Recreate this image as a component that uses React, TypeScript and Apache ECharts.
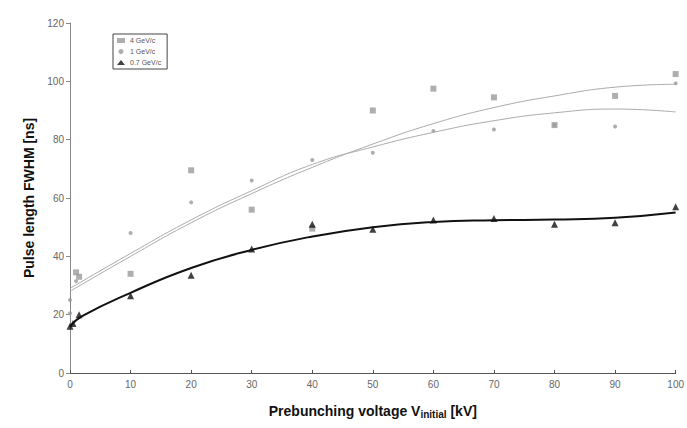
import React, { useEffect, useRef } from "react";
import * as echarts from "echarts";

const xTicks = [0, 10, 20, 30, 40, 50, 60, 70, 80, 90, 100];

// Measured points
const sq4: [number, number][] = [
  [1, 34.5], [1.5, 33], [10, 34], [20, 69.5], [30, 56], [40, 49.5], [50, 90],
  [60, 97.5], [70, 94.5], [80, 85], [90, 95], [100, 102.5],
];
const circ1: [number, number][] = [
  [0, 25], [0, 20.5], [1, 31.5], [10, 48], [20, 58.5], [30, 66], [40, 73], [50, 75.5],
  [60, 83], [70, 83.5], [80, 85], [90, 84.5], [100, 99.3],
];
const tri07: [number, number][] = [
  [0, 16], [0.5, 17], [1.5, 20], [10, 26.5], [20, 33.5], [30, 42.5], [40, 51], [50, 49.3],
  [60, 52.5], [70, 53], [80, 51], [90, 51.5], [100, 57],
];

// Trend lines
const fit4: [number, number][] = [
  [0, 28], [10, 40], [20, 51.5], [30, 61.5], [40, 70.5], [50, 78.5], [60, 85.5],
  [70, 91], [80, 95], [90, 98], [100, 99],
];
const fit1: [number, number][] = [
  [0, 29], [10, 41], [20, 52.5], [30, 62.5], [40, 71.5], [50, 77.5], [60, 82.5],
  [70, 86.5], [80, 89.2], [90, 90.5], [100, 89.5],
];
const fit07: [number, number][] = [
  [0, 16], [2, 19.5], [10, 27.5], [20, 36], [30, 42.2], [40, 46.8], [50, 50],
  [60, 51.8], [70, 52.4], [80, 52.6], [90, 53.2], [100, 55],
];

export default function App() {
  const ref = useRef<HTMLDivElement>(null);
  useEffect(() => {
    const chart = echarts.init(ref.current!, undefined, { renderer: "svg" });
    chart.setOption({
      animation: false,
      backgroundColor: "#fff",
      grid: { left: 70, right: 7, top: 23, bottom: 55, containLabel: false },
      legend: {
        orient: "vertical",
        left: 113,
        top: 34,
        data: ["4 GeV/c", "1 GeV/c", "0.7 GeV/c"],
        itemWidth: 8,
        itemHeight: 5,
        itemGap: 4,
        padding: [3, 6, 3, 4],
        borderColor: "#444",
        borderWidth: 1,
        textStyle: { fontSize: 7, color: "#555", fontFamily: "Liberation Sans" },
      },
      xAxis: {
        type: "value",
        min: 0,
        max: 100,
        interval: 10,
        splitLine: { show: false },
        axisLine: { lineStyle: { color: "#555", width: 1 } },
        axisTick: { inside: true, length: 3, lineStyle: { color: "#555" } },
        axisLabel: { color: "#666", fontSize: 10, fontFamily: "Liberation Sans", margin: 6 },
        name: "{a|Prebunching voltage V}{s|initial}{a| [kV]}",
        nameLocation: "middle",
        nameGap: 30,
        nameTextStyle: {
          rich: {
            a: { fontSize: 14, fontWeight: "bold", color: "#111", fontFamily: "Liberation Sans" },
            s: { fontSize: 10, fontWeight: "bold", color: "#111", fontFamily: "Liberation Sans", verticalAlign: "bottom", padding: [6, 0, 0, 0] },
          },
        },
      },
      yAxis: {
        type: "value",
        min: 0,
        max: 120,
        interval: 20,
        splitLine: { show: false },
        axisLine: { show: true, lineStyle: { color: "#888", width: 1 } },
        axisTick: { show: true, length: 4, lineStyle: { color: "#888" } },
        axisLabel: { color: "#666", fontSize: 10, fontFamily: "Liberation Sans", margin: 6 },
        name: "Pulse length FWHM [ns]",
        nameLocation: "middle",
        nameGap: 33,
        nameTextStyle: { fontSize: 14, fontWeight: "bold", color: "#111", fontFamily: "Liberation Sans" },
      },
      series: [
        {
          name: "fit4", type: "line", data: fit4, smooth: true, showSymbol: false,
          lineStyle: { color: "#aaa", width: 1 }, silent: true,
        },
        {
          name: "fit1", type: "line", data: fit1, smooth: true, showSymbol: false,
          lineStyle: { color: "#aaa", width: 1 }, silent: true,
        },
        {
          name: "fit07", type: "line", data: fit07, smooth: true, showSymbol: false,
          lineStyle: { color: "#111", width: 2 }, silent: true,
        },
        {
          name: "4 GeV/c", type: "scatter", data: sq4, symbol: "rect", symbolSize: 6,
          itemStyle: { color: "#9a9a9a" },
        },
        {
          name: "1 GeV/c", type: "scatter", data: circ1, symbol: "circle", symbolSize: 4,
          itemStyle: { color: "#999" },
        },
        {
          name: "0.7 GeV/c", type: "scatter", data: tri07, symbol: "triangle", symbolSize: 7,
          itemStyle: { color: "#111" },
        },
      ],
    });
    return () => chart.dispose();
  }, []);
  return <div ref={ref} style={{ width: 687, height: 428, position: "absolute", left: 0, top: 0 }} />;
}
